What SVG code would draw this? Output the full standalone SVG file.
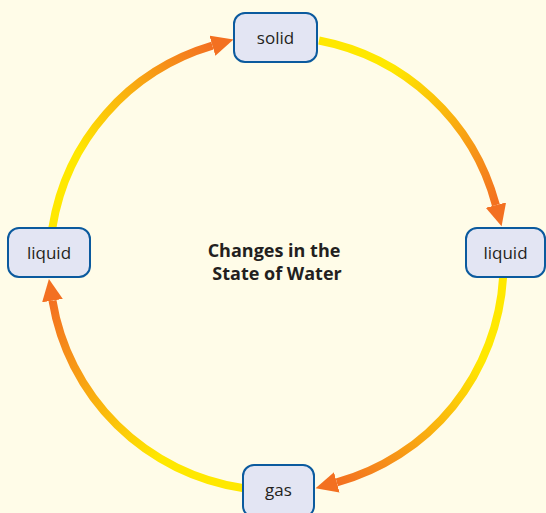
<svg xmlns="http://www.w3.org/2000/svg" width="546" height="513" viewBox="0 0 546 513">
  <style>
    .node rect { fill: #E3E5F3; stroke: #0B5A9E; stroke-width: 2; }
    .node text { font-family: "Open Sans", "Noto Sans", "DejaVu Sans", sans-serif; font-size: 17px; fill: #231F20; text-anchor: middle; }
    .arc { fill: none; stroke-width: 8; marker-end: url(#head); }
    .title { font-family: "Open Sans", "Noto Sans", "DejaVu Sans", sans-serif; font-size: 18px; font-weight: bold; fill: #231F20; text-anchor: middle; }
  </style>
  <defs>
    <marker id="head" markerUnits="userSpaceOnUse" markerWidth="24" markerHeight="22" refX="0" refY="10.5" orient="auto">
      <path d="M0,0 L22,10.5 L0,21 Z" fill="#F37021"/>
    </marker>
    <linearGradient id="g1" gradientUnits="userSpaceOnUse" x1="319" y1="40.5" x2="495.9" y2="205.1">
      <stop offset="0" stop-color="#FFE800"/>
      <stop offset="0.3" stop-color="#FFE800"/>
      <stop offset="1" stop-color="#F37021"/>
    </linearGradient>
    <linearGradient id="g2" gradientUnits="userSpaceOnUse" x1="503.1" y1="277" x2="336.8" y2="482.4">
      <stop offset="0" stop-color="#FFE800"/>
      <stop offset="0.3" stop-color="#FFE800"/>
      <stop offset="1" stop-color="#F37021"/>
    </linearGradient>
    <linearGradient id="g3" gradientUnits="userSpaceOnUse" x1="242.6" y1="488" x2="52.5" y2="300.6">
      <stop offset="0" stop-color="#FFE800"/>
      <stop offset="0.3" stop-color="#FFE800"/>
      <stop offset="1" stop-color="#F37021"/>
    </linearGradient>
    <linearGradient id="g4" gradientUnits="userSpaceOnUse" x1="52.4" y1="227.6" x2="212.4" y2="45.7">
      <stop offset="0" stop-color="#FFE800"/>
      <stop offset="0.3" stop-color="#FFE800"/>
      <stop offset="1" stop-color="#F37021"/>
    </linearGradient>
  </defs>

  <rect x="0" y="0" width="546" height="513" fill="#FFFCE8"/>

  <g id="connectors">
    <path class="arc" stroke="url(#g1)" d="M319,40.5 A227,227 0 0 1 495.9,205.1"/>
    <path class="arc" stroke="url(#g2)" d="M503.1,277 A227,227 0 0 1 336.8,482.4"/>
    <path class="arc" stroke="url(#g3)" d="M242.6,488 A227,227 0 0 1 52.5,300.6"/>
    <path class="arc" stroke="url(#g4)" d="M52.4,227.6 A227,227 0 0 1 212.4,45.7"/>
  </g>

  <g id="solid" class="node">
    <rect x="234" y="13" width="83" height="49" rx="11"/>
    <text x="275.5" y="43.5">solid</text>
  </g>
  <g id="liquid-right" class="node">
    <rect x="466" y="228" width="79" height="49" rx="11"/>
    <text x="505.5" y="258.5">liquid</text>
  </g>
  <g id="liquid-left" class="node">
    <rect x="8" y="228" width="82" height="49" rx="11"/>
    <text x="49" y="258.5">liquid</text>
  </g>
  <g id="gas" class="node">
    <rect x="243" y="465" width="71" height="52" rx="11"/>
    <text x="278.5" y="495.5">gas</text>
  </g>

  <g id="title">
    <text class="title" x="274" y="257">Changes in the</text>
    <text class="title" x="277" y="280">State of Water</text>
  </g>
</svg>
